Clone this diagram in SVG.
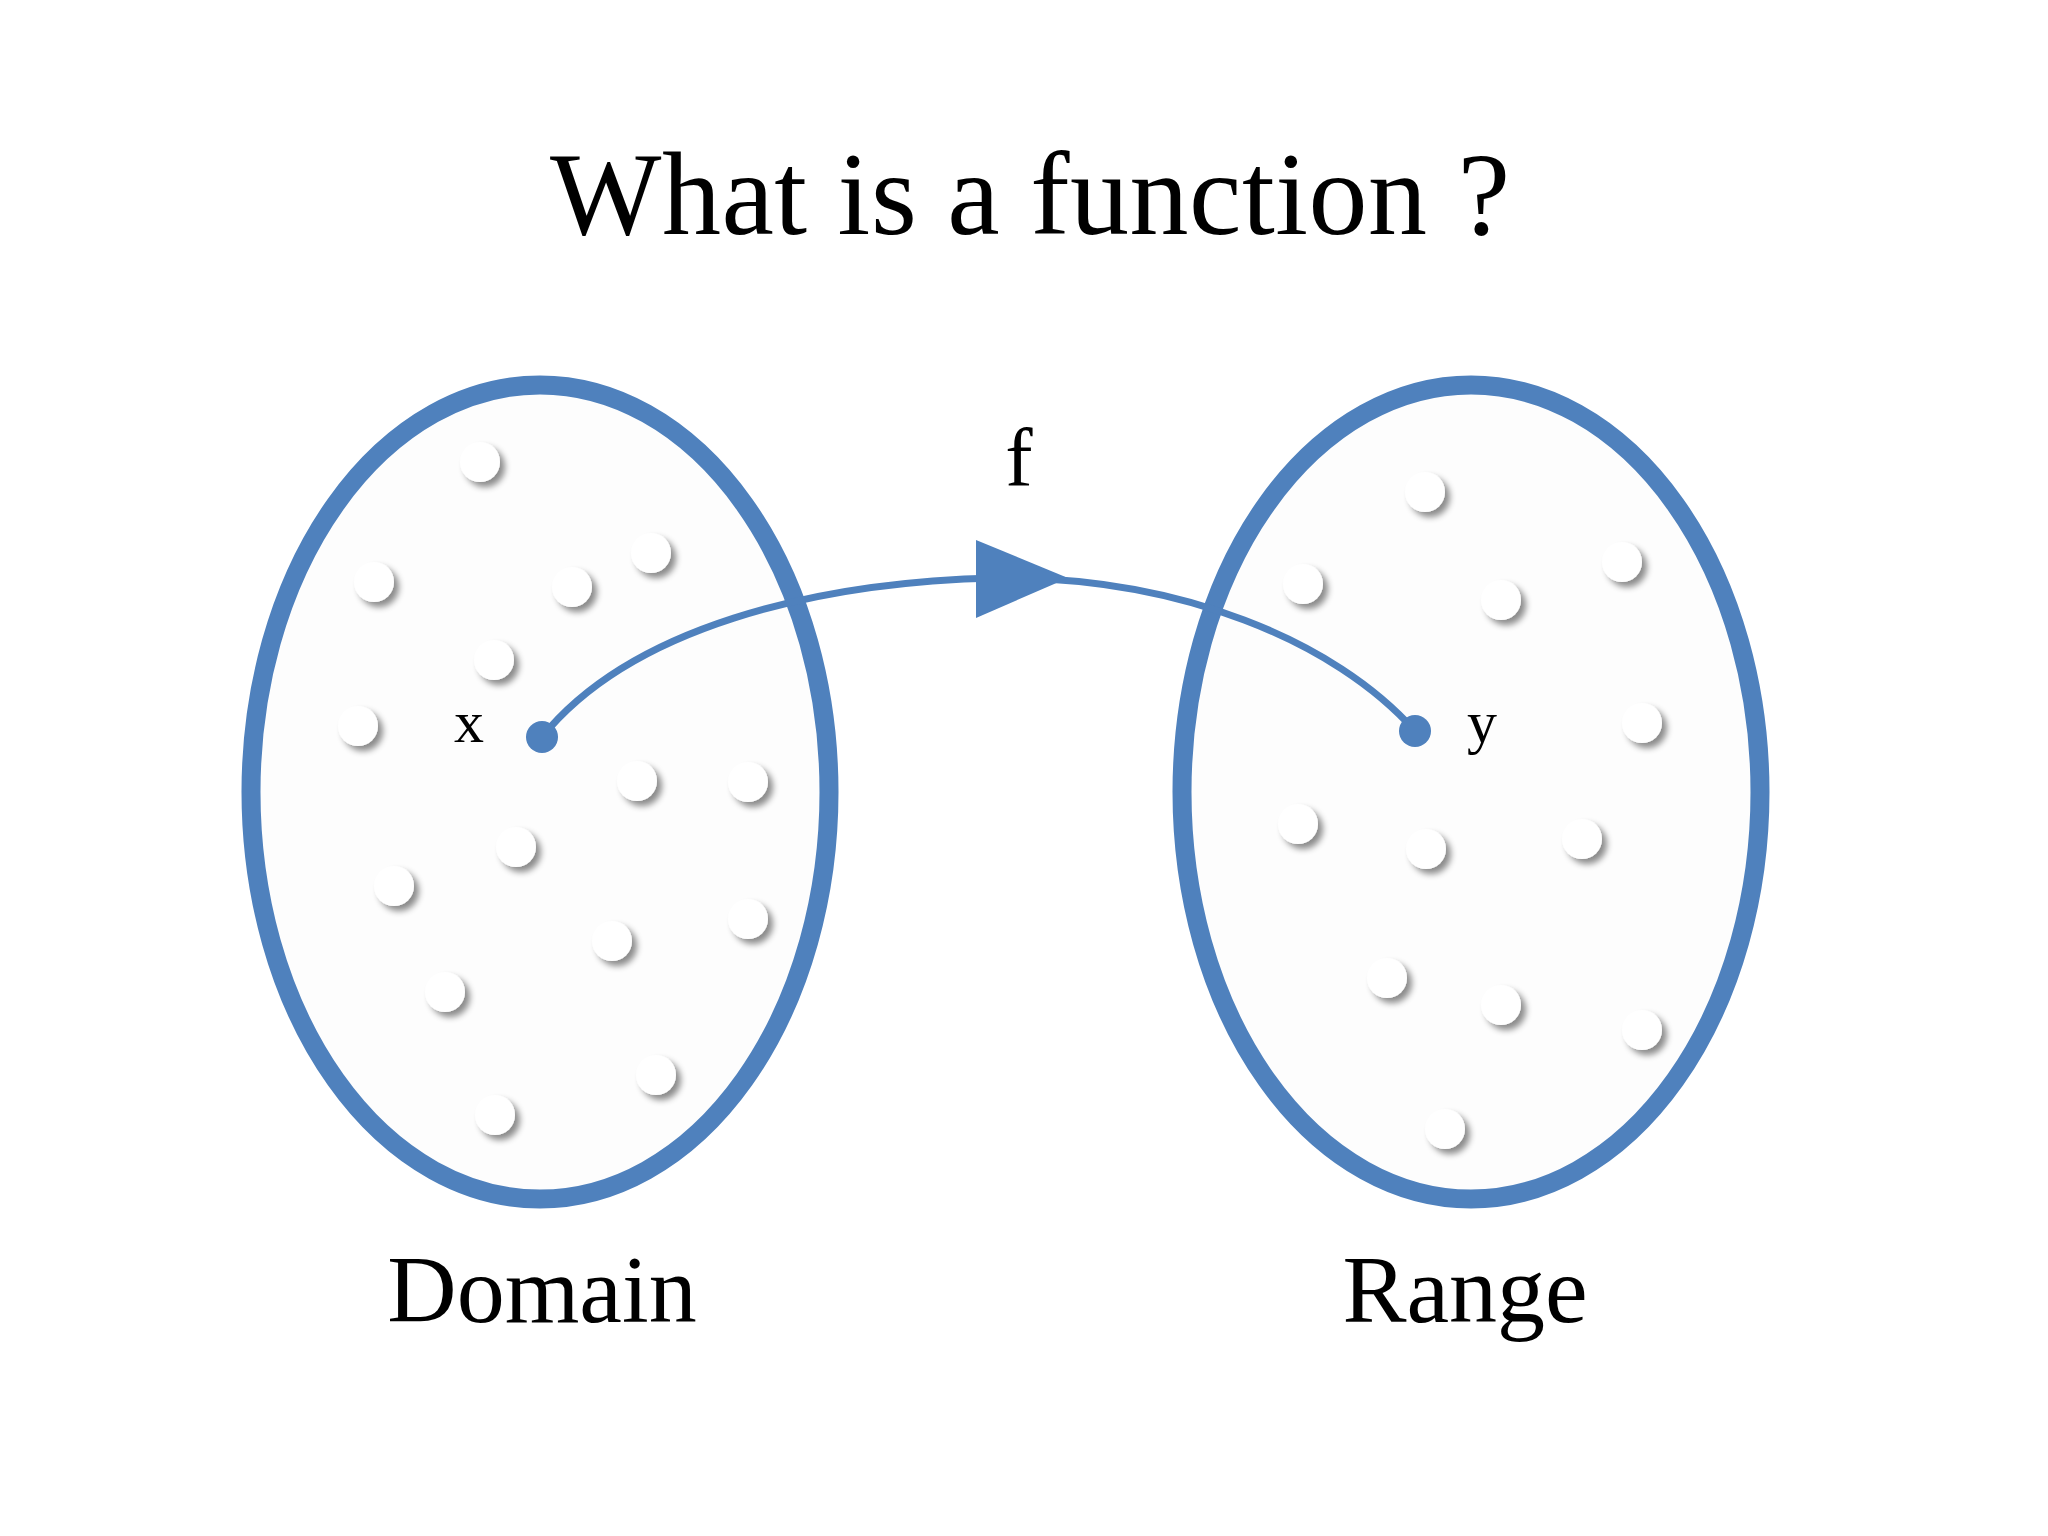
<svg xmlns="http://www.w3.org/2000/svg" width="2048" height="1536" viewBox="0 0 2048 1536">
<style>
.set{fill:#fdfdfd;stroke:#4f81bd;stroke-width:19}
.t{font-family:"Liberation Serif",serif;fill:#000;text-anchor:middle}
.pt{fill:#fff;filter:url(#sh)}
</style>
<defs>
<filter id="sh" x="-50%" y="-50%" width="200%" height="200%">
<feDropShadow dx="5" dy="5" stdDeviation="3" flood-color="#000" flood-opacity="0.45"/>
</filter>
</defs>
<rect width="2048" height="1536" fill="#fff"/>
<text class="t" x="1030" y="234" font-size="118" textLength="960" lengthAdjust="spacing">What is a function ?</text>
<g id="domain">
<ellipse class="set" cx="540" cy="792" rx="289" ry="407"/>
<g>
<circle class="pt" cx="480" cy="462" r="20"/><circle class="pt" cx="374" cy="582" r="20"/>
<circle class="pt" cx="572" cy="587" r="20"/><circle class="pt" cx="651" cy="553" r="20"/>
<circle class="pt" cx="494" cy="660" r="20"/><circle class="pt" cx="358" cy="726" r="20"/>
<circle class="pt" cx="637" cy="781" r="20"/><circle class="pt" cx="748" cy="782" r="20"/>
<circle class="pt" cx="516" cy="847" r="20"/><circle class="pt" cx="394" cy="886" r="20"/>
<circle class="pt" cx="748" cy="919" r="20"/><circle class="pt" cx="612" cy="941" r="20"/>
<circle class="pt" cx="445" cy="992" r="20"/><circle class="pt" cx="656" cy="1075" r="20"/>
<circle class="pt" cx="495" cy="1115" r="20"/>
</g>
<text class="t" x="542" y="1322" font-size="96">Domain</text>
<text class="t" x="469" y="742" font-size="60">x</text>
</g>
<g id="range">
<ellipse class="set" cx="1471" cy="792" rx="289" ry="407"/>
<g transform="translate(-6,-3)">
<circle class="pt" cx="1431" cy="495" r="20"/><circle class="pt" cx="1309" cy="587" r="20"/>
<circle class="pt" cx="1507" cy="603" r="20"/><circle class="pt" cx="1628" cy="565" r="20"/>
<circle class="pt" cx="1648" cy="726" r="20"/><circle class="pt" cx="1304" cy="827" r="20"/>
<circle class="pt" cx="1432" cy="852" r="20"/><circle class="pt" cx="1588" cy="842" r="20"/>
<circle class="pt" cx="1393" cy="981" r="20"/><circle class="pt" cx="1507" cy="1008" r="20"/>
<circle class="pt" cx="1648" cy="1033" r="20"/><circle class="pt" cx="1451" cy="1132" r="20"/>
</g>
<text class="t" x="1465" y="1322" font-size="96">Range</text>
<text class="t" x="1482" y="742" font-size="60">y</text>
</g>
<g id="connectors">
<path d="M542,737 C630,628 814,582 996,578 C1179,576 1335,641 1415,731" fill="none" stroke="#4f81bd" stroke-width="7"/>
<polygon points="976,540 1068,578 976,618" fill="#4f81bd"/>
<circle cx="542" cy="737" r="16" fill="#4f81bd"/>
<circle cx="1415" cy="731" r="16" fill="#4f81bd"/>
<text class="t" x="1019" y="486" font-size="82">f</text>
</g>
</svg>
